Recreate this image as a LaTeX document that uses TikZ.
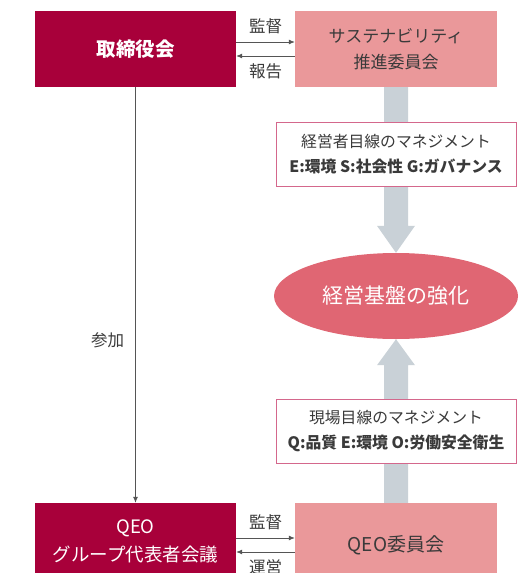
\documentclass[tikz,border=0pt]{standalone}
\usepackage{fontspec}
\setmainfont{Noto Sans CJK JP}
\usetikzlibrary{arrows.meta,shapes.geometric,calc}
\definecolor{darkred}{HTML}{A8003A}
\definecolor{pinkbox}{HTML}{EA989A}
\definecolor{ellred}{HTML}{E06673}
\definecolor{colgray}{HTML}{C9D1D7}
\definecolor{tbborder}{HTML}{D4678C}
\definecolor{txtgray}{HTML}{3A3A3A}
\definecolor{linegray}{HTML}{555555}
\tikzset{
  darkbox/.style={rectangle, fill=darkred, text=white, minimum width=201pt, minimum height=76pt, inner sep=0pt, align=center, font=\fontsize{18.5}{28}\selectfont},
  pinkbx/.style={rectangle, fill=pinkbox, text=txtgray, minimum width=202pt, minimum height=76pt, inner sep=0pt, align=center, font=\fontsize{17}{26}\selectfont},
  textbox/.style={rectangle, draw=tbborder, line width=0.9pt, fill=white, text=txtgray, minimum width=240pt, minimum height=64pt, inner sep=0pt, align=center, font=\fontsize{15.8}{25}\selectfont},
  ell/.style={ellipse, fill=ellred, text=white, minimum width=244pt, minimum height=86pt, inner sep=0pt, font=\fontsize{21}{24}\selectfont},
  flow/.style={draw=linegray, line width=0.8pt, -{Latex[length=6pt,width=5pt]}},
  lbl/.style={text=txtgray, font=\fontsize{16.5}{18}\selectfont, inner sep=0pt},
  column/.style={fill=colgray}
}
\begin{document}
\begin{tikzpicture}[x=1pt,y=-1pt]
\clip (0,0) rectangle (532,573);
\fill[white] (0,0) rectangle (532,573);
\node[darkbox, font=\fontsize{19.5}{28}\selectfont\bfseries] (bd) at (135.5,49) {取締役会};
\node[pinkbx] (sus) at (396,49) {};
\node[ell] (core) at (396,296) {経営基盤の強化};
\node[darkbox] (grp) at (135.5,541) {QEO\\グループ代表者会議};
\node[pinkbx] (qeo) at (396,541) {};
% grey arrows
\fill[column] ($(sus.south)+(-12,0)$) -- ($(core.north)+(-12,-27)$) -- ($(core.north)+(-19,-27)$) -- (core.north) -- ($(core.north)+(19,-27)$) -- ($(core.north)+(12,-27)$) -- ($(sus.south)+(12,0)$) -- cycle;
\fill[column] ($(qeo.north)+(-12,0)$) -- ($(core.south)+(-12,26)$) -- ($(core.south)+(-19,26)$) -- (core.south) -- ($(core.south)+(19,26)$) -- ($(core.south)+(12,26)$) -- ($(qeo.north)+(12,0)$) -- cycle;
\node[pinkbx] (sust) at (sus) {サステナビリティ\\推進委員会};
\node[pinkbx, font=\fontsize{19}{24}\selectfont] (qeot) at ([yshift=-4pt]qeo) {QEO委員会};
\node[textbox] (tb1) at (396,154) {経営者目線のマネジメント\\\bfseries E:環境 S:社会性 G:ガバナンス};
\node[textbox] (tb2) at (396,431) {現場目線のマネジメント\\\bfseries Q:品質 E:環境 O:労働安全衛生};
% connectors
\draw[flow] ([yshift=7pt]bd.east) -- ([yshift=7pt]sus.west) node[lbl, midway, above=8pt] {監督};
\draw[flow] ([yshift=-7pt]sus.west) -- ([yshift=-7pt]bd.east) node[lbl, midway, below=7pt] {報告};
\draw[flow] ([yshift=3pt]grp.east) -- ([yshift=3pt]qeo.west) node[lbl, midway, above=8pt] {監督};
\draw[flow] ([yshift=-11pt]qeo.west) -- ([yshift=-11pt]grp.east) node[lbl, midway, below=7pt] {運営};
\draw[flow] (bd.south) -- (grp.north) node[lbl, pos=0.61, left=11pt] {参加};
\end{tikzpicture}
\end{document}
